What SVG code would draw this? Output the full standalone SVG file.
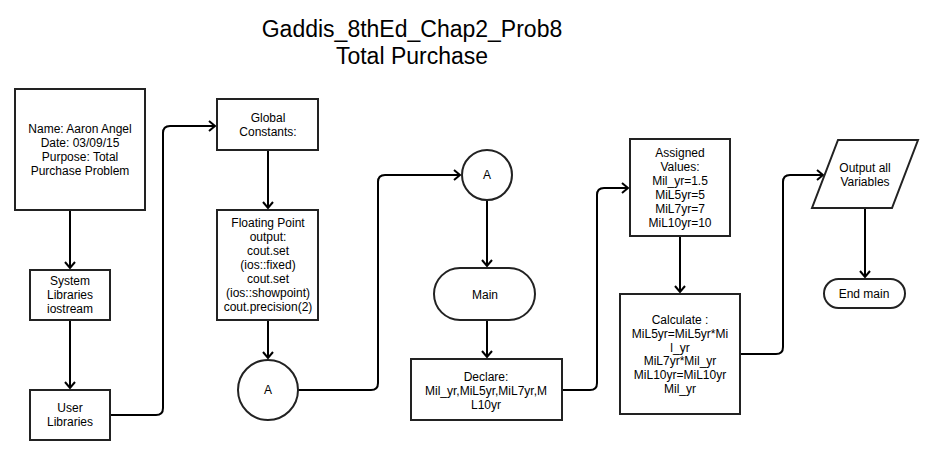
<svg xmlns="http://www.w3.org/2000/svg" width="931" height="460" viewBox="0 0 931 460">
<defs>
<style>
.n{fill:#fff;stroke:#222;stroke-width:2}
.t{font-family:"Liberation Sans",Arial,sans-serif;font-size:12px;fill:#000;text-anchor:middle}
.title{font-family:"Liberation Sans",Arial,sans-serif;font-size:23px;fill:#000;text-anchor:middle}
.c{fill:none;stroke:#000;stroke-width:2;stroke-linejoin:round}
</style>
<marker id="ar" markerWidth="12" markerHeight="12" refX="9" refY="6" orient="auto" markerUnits="userSpaceOnUse">
<path d="M3,1 L9,6 L3,11" fill="none" stroke="#000" stroke-width="2"/>
</marker>
</defs>
<rect width="931" height="460" fill="#fff"/>
<g id="title">
<text class="title" x="412" y="37">Gaddis_8thEd_Chap2_Prob8</text>
<text class="title" x="412" y="64">Total Purchase</text>
</g>
<g id="connectors">
<path class="c" d="M70,210 L70,268" marker-end="url(#ar)"/>
<path class="c" d="M70,320 L70,388" marker-end="url(#ar)"/>
<path class="c" d="M110,415 L156,415 Q163,415 163,408 L163,133 Q163,126 170,126 L215,126" marker-end="url(#ar)"/>
<path class="c" d="M268,150 L268,208" marker-end="url(#ar)"/>
<path class="c" d="M268,320 L268,358" marker-end="url(#ar)"/>
<path class="c" d="M298,390 L371,390 Q378,390 378,383 L378,182 Q378,175 385,175 L460,175" marker-end="url(#ar)"/>
<path class="c" d="M487,200 L487,266" marker-end="url(#ar)"/>
<path class="c" d="M487,320 L487,357" marker-end="url(#ar)"/>
<path class="c" d="M562,390 L590,390 Q597,390 597,383 L597,195 Q597,188 604,188 L628,188" marker-end="url(#ar)"/>
<path class="c" d="M680,236 L680,292" marker-end="url(#ar)"/>
<path class="c" d="M740,354 L776,354 Q783,354 783,347 L783,182 Q783,175 790,175 L823,175" marker-end="url(#ar)"/>
<path class="c" d="M865,208 L865,277" marker-end="url(#ar)"/>
</g>
<g id="header">
<rect class="n" x="15" y="89" width="130" height="121"/>
<text class="t" x="80" y="133">Name: Aaron Angel</text>
<text class="t" x="80" y="147">Date: 03/09/15</text>
<text class="t" x="80" y="161">Purpose: Total</text>
<text class="t" x="80" y="175">Purchase Problem</text>
</g>
<g id="syslib">
<rect class="n" x="30" y="270" width="80" height="50"/>
<text class="t" x="70" y="285">System</text>
<text class="t" x="70" y="299">Libraries</text>
<text class="t" x="70" y="313">iostream</text>
</g>
<g id="userlib">
<rect class="n" x="30" y="390" width="80" height="50"/>
<text class="t" x="70" y="412">User</text>
<text class="t" x="70" y="426">Libraries</text>
</g>
<g id="global">
<rect class="n" x="217" y="99" width="101" height="51"/>
<text class="t" x="268" y="122">Global</text>
<text class="t" x="268" y="136">Constants:</text>
</g>
<g id="floating">
<rect class="n" x="217" y="210" width="101" height="110"/>
<text class="t" x="268" y="227">Floating Point</text>
<text class="t" x="268" y="241">output:</text>
<text class="t" x="268" y="255">cout.set</text>
<text class="t" x="268" y="269">(ios::fixed)</text>
<text class="t" x="268" y="283">cout.set</text>
<text class="t" x="268" y="297">(ios::showpoint)</text>
<text class="t" x="268" y="311">cout.precision(2)</text>
</g>
<g id="connA1">
<circle class="n" cx="268" cy="390" r="30"/>
<text class="t" x="268" y="394">A</text>
</g>
<g id="connA2">
<circle class="n" cx="487" cy="175" r="25"/>
<text class="t" x="487" y="179">A</text>
</g>
<g id="main">
<rect class="n" x="434" y="268" width="101" height="52" rx="26" ry="26"/>
<text class="t" x="485" y="299">Main</text>
</g>
<g id="declare">
<rect class="n" x="411" y="359" width="151" height="61"/>
<text class="t" x="486" y="381">Declare:</text>
<text class="t" x="486" y="395">Mil_yr,MiL5yr,MiL7yr,M</text>
<text class="t" x="486" y="409">L10yr</text>
</g>
<g id="assigned">
<rect class="n" x="630" y="139" width="100" height="97"/>
<text class="t" x="680" y="157">Assigned</text>
<text class="t" x="680" y="171">Values:</text>
<text class="t" x="680" y="185">Mil_yr=1.5</text>
<text class="t" x="680" y="199">MiL5yr=5</text>
<text class="t" x="680" y="213">MiL7yr=7</text>
<text class="t" x="680" y="227">MiL10yr=10</text>
</g>
<g id="calculate">
<rect class="n" x="620" y="294" width="120" height="120"/>
<text class="t" x="680" y="324">Calculate :</text>
<text class="t" x="680" y="338">MiL5yr=MiL5yr*Mi</text>
<text class="t" x="680" y="352">l_yr</text>
<text class="t" x="680" y="365">MiL7yr*Mil_yr</text>
<text class="t" x="680" y="379">MiL10yr=MiL10yr</text>
<text class="t" x="680" y="393">Mil_yr</text>
</g>
<g id="output">
<polygon class="n" points="838,140 918,140 892,208 812,208"/>
<text class="t" x="865" y="172">Output all</text>
<text class="t" x="865" y="186">Variables</text>
</g>
<g id="endmain">
<rect class="n" x="824" y="279" width="81" height="29" rx="14.5" ry="14.5"/>
<text class="t" x="864" y="298">End main</text>
</g>
</svg>
